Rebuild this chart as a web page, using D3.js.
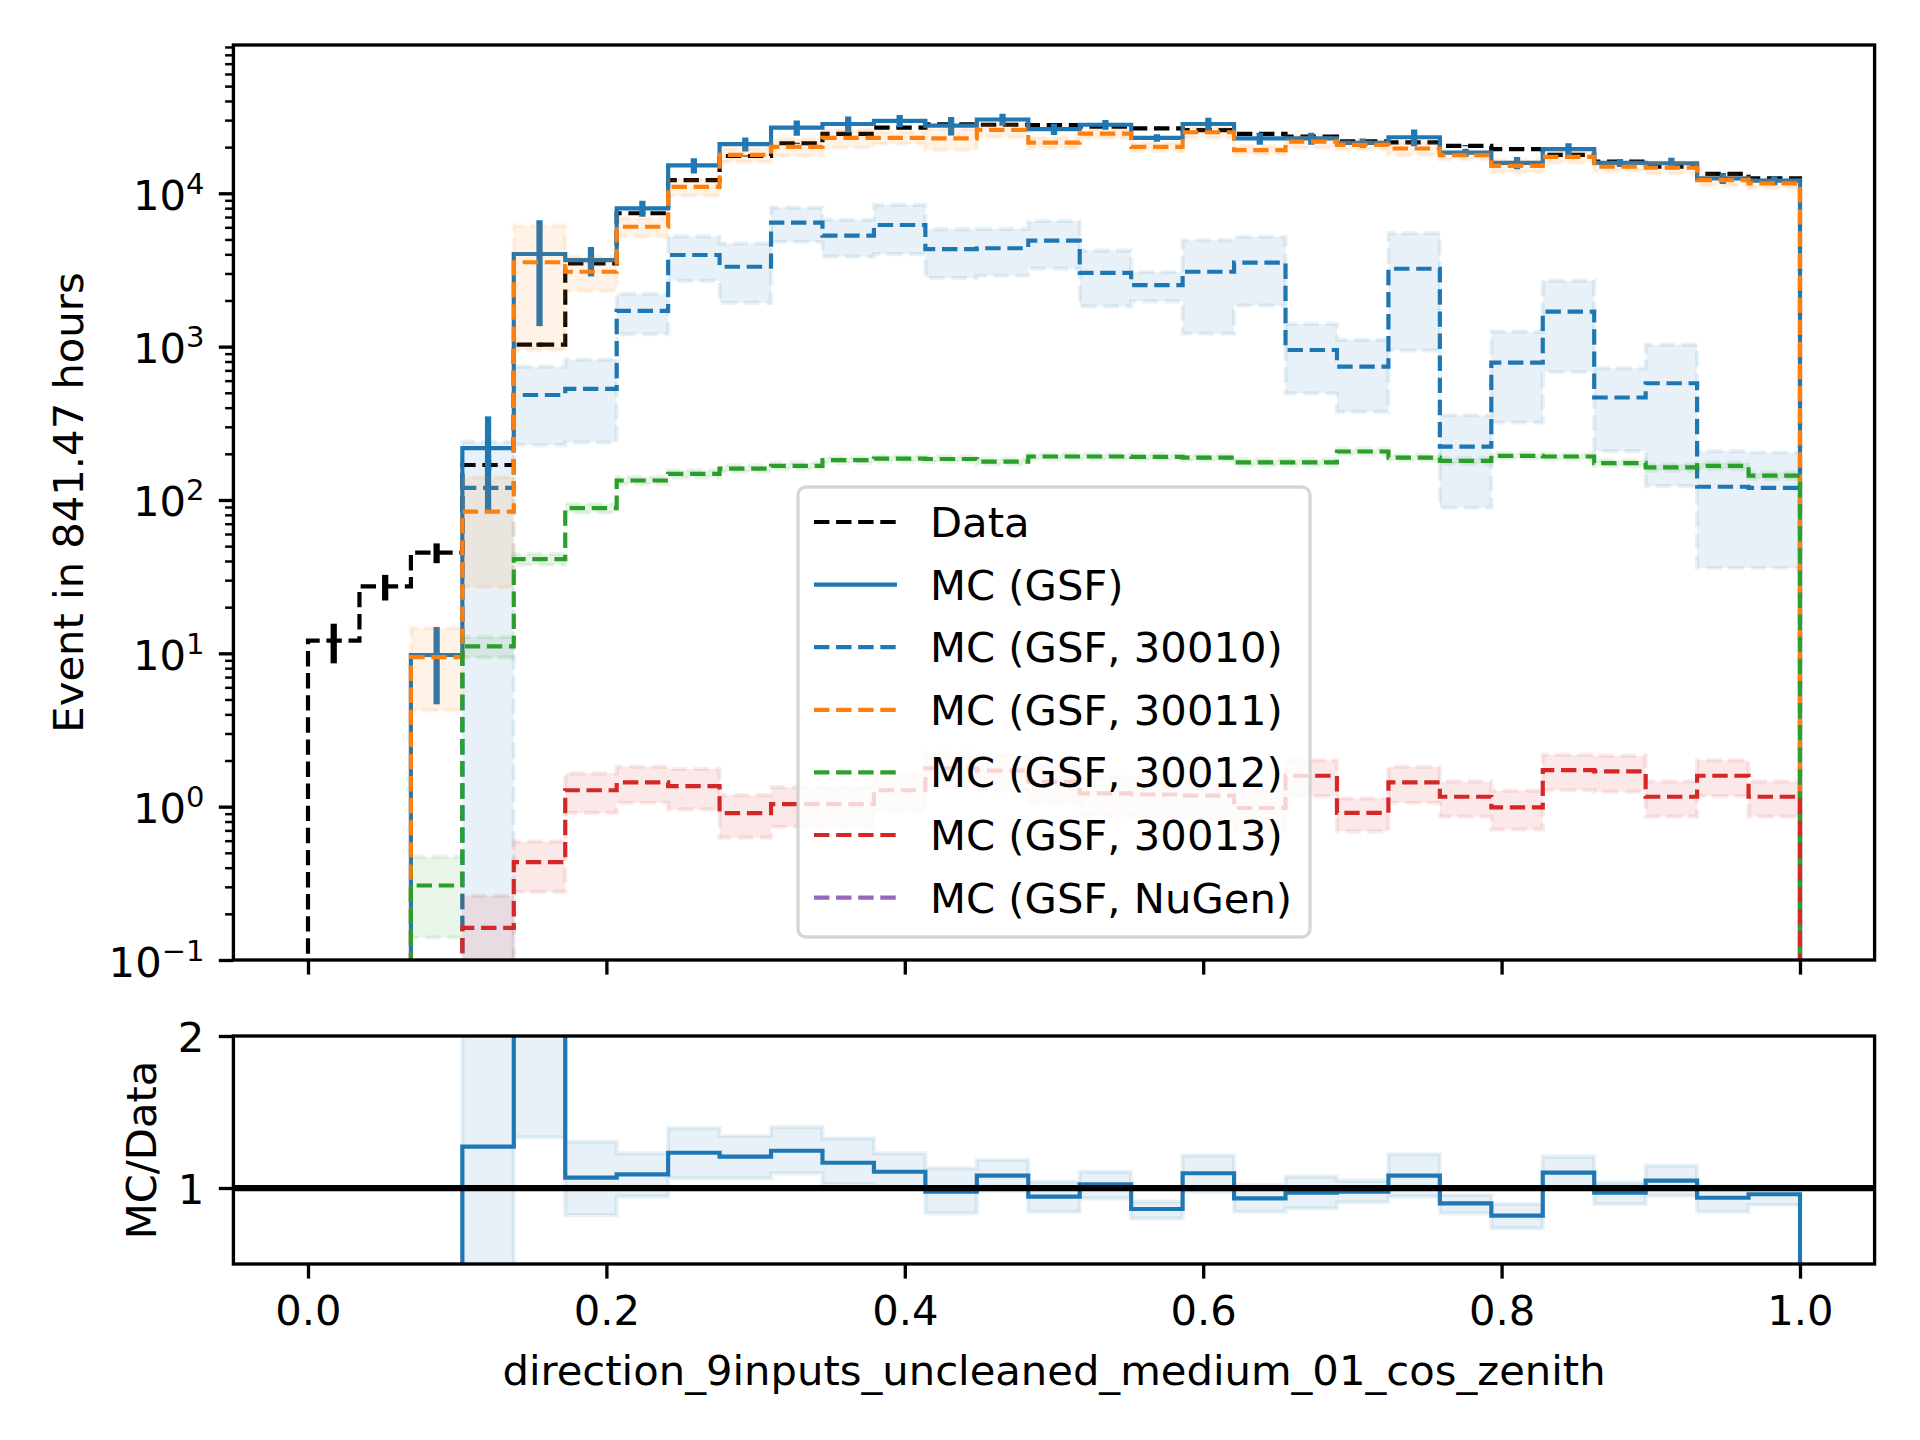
<!DOCTYPE html>
<html><head><meta charset="utf-8">
<script src="https://cdn.jsdelivr.net/npm/d3@7"></script>
<style>
body{margin:0;background:#fff}
svg{display:block}
text{font-family:"DejaVu Sans",sans-serif;fill:#000}
</style>
</head><body>
<svg id="c" width="1920" height="1440"></svg>
<script>
// ---------------- data ----------------
const nBins = 29;
const binEdges = d3.range(nBins + 1).map(k => k / nBins);

const dataVals = [12.1, 27.3, 45.4, 169, 1030, 3490, 7410, 12200, 17500, 21200, 24400, 26800, 28200, 28000, 27800, 27200, 26500, 25800, 24400, 23400, 21800, 21500, 20400, 19400, 17800, 16100, 14900, 13400, 12500];
const dataErr  = [3.5, 5.2, 6.7, 13, 32, 59, 86, 110, 132, 146, 156, 164, 168, 167, 167, 165, 163, 161, 156, 153, 148, 147, 143, 139, 133, 127, 122, 116, 112];

const mcVals = [0, 0, 9.75, 218, 4020, 3670, 7980, 15200, 20900, 26800, 28300, 29700, 27600, 30300, 26200, 28000, 23000, 28300, 22800, 22800, 21300, 23200, 18400, 15800, 19400, 15800, 15700, 12500, 12100];
const mcErr  = [0, 0, 5.1, 133, 2660, 800, 960, 1750, 2200, 3050, 3400, 2700, 3800, 2750, 2200, 2050, 1300, 2800, 2050, 2050, 1450, 2900, 1100, 1450, 1800, 950, 1350, 1000, 800];

const mc30010Vals = [0, 0, 0, 120, 484, 530, 1710, 3960, 3320, 6440, 5290, 6210, 4320, 4380, 4910, 3030, 2520, 3080, 3530, 951, 741, 3220, 223, 787, 1690, 466, 577, 122, 120];
const mc30010Err  = [0, 0, 0, 120, 256, 293, 505, 1275, 1390, 1630, 1430, 2200, 1515, 1480, 1685, 1200, 545, 1865, 1675, 455, 366, 2275, 134, 467, 1007, 258, 454, 86, 84];

const mc30011Vals = [0, 0, 9.44, 84, 3550, 3080, 6050, 11000, 17800, 20100, 23000, 23000, 22800, 25900, 21400, 24500, 20100, 25000, 19100, 21700, 20700, 19600, 17700, 15100, 17300, 14900, 14700, 12200, 11600];
const mc30011Err  = [0, 0, 5.2, 57, 2600, 770, 830, 1350, 1850, 2600, 3150, 2000, 3600, 2600, 1700, 1650, 1180, 2100, 1200, 1950, 1400, 1800, 1090, 1370, 1500, 910, 1270, 990, 800];

const mc30012Vals = [0, 0, 0.306, 11.1, 41.1, 88.5, 134, 148, 160, 167, 182, 186, 185, 178, 192, 192, 191, 189, 176, 176, 207, 189, 180, 194, 192, 174, 163, 167, 144];
const mc30012Err  = [0, 0, 0.166, 1.7, 3.3, 6, 7, 8, 8, 8, 8, 8, 8, 8, 8, 8, 8, 8, 8, 8, 9, 8, 8, 8, 8, 8, 8, 8, 7];

const mc30013Vals = [0, 0, 0, 0.162, 0.435, 1.28, 1.44, 1.36, 0.908, 1.04, 1.04, 1.28, 1.78, 1.72, 1.45, 1.22, 1.2, 1.18, 0.98, 1.59, 0.91, 1.44, 1.16, 0.99, 1.73, 1.70, 1.16, 1.59, 1.16];
const mc30013Err  = [0, 0, 0, 0.1, 0.157, 0.37, 0.38, 0.4, 0.28, 0.3, 0.3, 0.35, 0.45, 0.45, 0.4, 0.35, 0.35, 0.35, 0.3, 0.42, 0.22, 0.38, 0.3, 0.28, 0.45, 0.45, 0.3, 0.42, 0.3];

const nugenVals = [0, 0, 0, 0, 0, 0, 0, 0, 0, 0, 0, 0, 0, 0, 0, 0, 0, 0, 0, 0, 0, 0, 0, 0, 0, 0, 0, 0, 0];
const nugenErr  = [0, 0, 0, 0, 0, 0, 0, 0, 0, 0, 0, 0, 0, 0, 0, 0, 0, 0, 0, 0, 0, 0, 0, 0, 0, 0, 0, 0, 0];

const ratioVals = [0, 0, 0, 1.272, 3.9, 1.068, 1.09, 1.232, 1.206, 1.245, 1.166, 1.107, 0.976, 1.081, 0.943, 1.024, 0.862, 1.097, 0.932, 0.969, 0.976, 1.081, 0.899, 0.818, 1.101, 0.969, 1.048, 0.936, 0.959];
const ratioLo   = [0, 0, 0, -0.5, 1.334, 0.822, 0.943, 1.064, 1.064, 1.097, 1.026, 0.998, 0.834, 0.982, 0.844, 0.932, 0.8, 0.976, 0.844, 0.866, 0.906, 0.943, 0.834, 0.735, 0.998, 0.895, 0.949, 0.844, 0.888];
const ratioHi   = [0, 0, 0, 3.0, 6.5, 1.305, 1.228, 1.393, 1.342, 1.4, 1.327, 1.228, 1.13, 1.184, 1.041, 1.107, 0.91, 1.213, 1.02, 1.075, 1.048, 1.222, 0.954, 0.895, 1.206, 1.035, 1.147, 1.009, 1.009];

const xTickValues = [0, 0.2, 0.4, 0.6, 0.8, 1.0];
const xTickLabels = ["0.0", "0.2", "0.4", "0.6", "0.8", "1.0"];
const yTickValues = [0.1, 1, 10, 100, 1000, 10000];
const yTickExponents = ["\u22121", "0", "1", "2", "3", "4"];
const ratioTickValues = [1, 2];
const ratioTickLabels = ["1", "2"];

const legendLabels = ["Data", "MC (GSF)", "MC (GSF, 30010)", "MC (GSF, 30011)", "MC (GSF, 30012)", "MC (GSF, 30013)", "MC (GSF, NuGen)"];

// ---------------- layout ----------------
const C = {blue:"#1f77b4", orange:"#ff7f0e", green:"#2ca02c", red:"#d62728", purple:"#9467bd"};
const LW = 4.17, LW15 = 6.25, SPINE = 3.33, DASH = "15.4,6.7", FS = 41.7;
const L = 233.4, R = 1874.6, T1 = 45, B1 = 960, T2 = 1036, B2 = 1264;

const svg = d3.select("#c");
const x = d3.scaleLinear().domain([-0.05, 1.05]).range([L, R]);
const yTop = d3.scaleLog().domain([0.1, 92700]).range([B1, T1]);
const yRat = d3.scaleLinear().domain([0.5, 2]).range([B2, T2]);

const defs = svg.append("defs");
defs.append("clipPath").attr("id","clipTop").append("rect").attr("x",L).attr("y",T1).attr("width",R-L).attr("height",B1-T1);
defs.append("clipPath").attr("id","clipBot").append("rect").attr("x",L).attr("y",T2).attr("width",R-L).attr("height",B2-T2);

const yv = v => v > 0 ? yTop(v) : B1 + 60;
const ry = v => Math.max(Math.min(yRat(v), B2 + 60), T2 - 60);

function stepPts(vals) {
  const p = [[binEdges[0], 0]];
  vals.forEach((v, i) => { p.push([binEdges[i], v], [binEdges[i+1], v]); });
  p.push([binEdges[nBins], 0]);
  return p;
}
function bandPts(lo, hi) {
  const p = [];
  hi.forEach((v, i) => { p.push([binEdges[i], v], [binEdges[i+1], v]); });
  for (let i = nBins - 1; i >= 0; i--) p.push([binEdges[i+1], lo[i]], [binEdges[i], lo[i]]);
  return p;
}
const lineTop = d3.line().x(d => x(d[0])).y(d => yv(d[1]));
const lineBot = d3.line().x(d => x(d[0])).y(d => ry(d[1]));

const gTop = svg.append("g").attr("clip-path","url(#clipTop)");
const gBot = svg.append("g").attr("clip-path","url(#clipBot)");

function errorBars(g, vals, errs, color) {
  vals.forEach((v, i) => {
    if (!(v > 0)) return;
    const xc = x((binEdges[i] + binEdges[i+1]) / 2);
    g.append("line").attr("x1", xc).attr("x2", xc)
      .attr("y1", yv(v - errs[i])).attr("y2", yv(v + errs[i]))
      .attr("stroke", color).attr("stroke-width", LW15);
  });
}

// Data
gTop.append("path").attr("d", lineTop(stepPts(dataVals))).attr("fill","none")
  .attr("stroke","#000").attr("stroke-width",LW).attr("stroke-dasharray",DASH);
errorBars(gTop, dataVals, dataErr, "#000");

// MC total
gTop.append("path").attr("d", lineTop(stepPts(mcVals))).attr("fill","none")
  .attr("stroke",C.blue).attr("stroke-width",LW);
errorBars(gTop, mcVals, mcErr, C.blue);

// components
const comps = [
  {vals: mc30010Vals, err: mc30010Err, color: C.blue},
  {vals: mc30011Vals, err: mc30011Err, color: C.orange},
  {vals: mc30012Vals, err: mc30012Err, color: C.green},
  {vals: mc30013Vals, err: mc30013Err, color: C.red},
  {vals: nugenVals, err: nugenErr, color: C.purple}
];
comps.forEach(c => {
  gTop.append("path").attr("d", lineTop(stepPts(c.vals))).attr("fill","none")
    .attr("stroke", c.color).attr("stroke-width", LW).attr("stroke-dasharray", DASH);
  const lo = c.vals.map((v, i) => v - c.err[i]);
  const hi = c.vals.map((v, i) => v + c.err[i]);
  gTop.append("path").attr("d", lineTop(bandPts(lo, hi)) + "Z")
    .attr("fill", c.color).attr("fill-opacity", 0.1)
    .attr("stroke", c.color).attr("stroke-opacity", 0.1).attr("stroke-width", LW)
    .attr("stroke-dasharray", DASH);
});

// ratio panel
gBot.append("path").attr("d", lineBot(bandPts(ratioLo, ratioHi)) + "Z")
  .attr("fill", C.blue).attr("fill-opacity", 0.1)
  .attr("stroke", C.blue).attr("stroke-opacity", 0.1).attr("stroke-width", LW);
gBot.append("path").attr("d", lineBot(stepPts(ratioVals))).attr("fill","none")
  .attr("stroke", C.blue).attr("stroke-width", LW);
gBot.append("line").attr("x1", L).attr("x2", R).attr("y1", yRat(1)).attr("y2", yRat(1))
  .attr("stroke","#000").attr("stroke-width", LW15);

// ---------------- axes ----------------
function styleAxis(g, w) {
  g.select(".domain").remove();
  g.selectAll(".tick line").attr("stroke","#000").attr("stroke-width", w);
}
// x axes
const xAxTop = svg.append("g").attr("transform",`translate(0,${B1})`)
  .call(d3.axisBottom(x).tickValues(xTickValues).tickSize(14.6).tickFormat(""));
styleAxis(xAxTop, SPINE);
const xAxBot = svg.append("g").attr("transform",`translate(0,${B2})`)
  .call(d3.axisBottom(x).tickValues(xTickValues).tickSize(14.6).tickFormat((d,i) => xTickLabels[i]));
styleAxis(xAxBot, SPINE);
xAxBot.selectAll(".tick text").attr("y", null).attr("dy", null)
  .attr("transform", "translate(0,61)").attr("font-size", FS)
  .attr("font-family", "DejaVu Sans").attr("fill", "#000");

// y log axis major
const yAx = svg.append("g").attr("transform",`translate(${L},0)`)
  .call(d3.axisLeft(yTop).tickValues(yTickValues).tickSize(14.6).tickFormat(""));
styleAxis(yAx, SPINE);
yAx.selectAll(".tick").each(function(d, i) {
  const t = d3.select(this).append("text").attr("x", -29).attr("y", 16)
    .attr("text-anchor", "end").attr("font-size", FS).attr("font-family", "DejaVu Sans");
  t.append("tspan").text("10");
  t.append("tspan").attr("font-size", 29).attr("dy", -16).text(yTickExponents[i]);
});
// minor ticks
const minorVals = [];
[0.1, 1, 10, 100, 1000, 10000].forEach(dec => { for (let m = 2; m <= 9; m++) { const v = dec * m; if (v <= 92700) minorVals.push(v); } });
const yMin = svg.append("g").attr("transform",`translate(${L},0)`)
  .call(d3.axisLeft(yTop).tickValues(minorVals).tickSize(8.3).tickFormat(""));
styleAxis(yMin, 2.5);

// ratio y axis
const yAxR = svg.append("g").attr("transform",`translate(${L},0)`)
  .call(d3.axisLeft(yRat).tickValues(ratioTickValues).tickSize(14.6).tickFormat(""));
styleAxis(yAxR, SPINE);
yAxR.selectAll(".tick").append("text").attr("x", -29).attr("y", 15.5)
  .attr("text-anchor","end").attr("font-size", FS).attr("font-family","DejaVu Sans")
  .text((d, i) => ratioTickLabels[i]);

// spines
[[T1, B1], [T2, B2]].forEach(([t, b]) => {
  svg.append("rect").attr("x", L).attr("y", t).attr("width", R - L).attr("height", b - t)
    .attr("fill","none").attr("stroke","#000").attr("stroke-width", SPINE);
});

// labels
svg.append("text").attr("transform", `translate(68,${(T1+B1)/2}) rotate(-90)`)
  .attr("text-anchor","middle").attr("dy","0.36em").attr("font-size", FS).text("Event in 841.47 hours");
svg.append("text").attr("transform", `translate(141,${(T2+B2)/2}) rotate(-90)`)
  .attr("text-anchor","middle").attr("dy","0.36em").attr("font-size", FS).text("MC/Data");
svg.append("text").attr("x", (L+R)/2).attr("y", 1385).attr("text-anchor","middle")
  .attr("font-size", FS).text("direction_9inputs_uncleaned_medium_01_cos_zenith");

// ---------------- legend ----------------
const lg = svg.append("g");
lg.append("rect").attr("x", 798).attr("y", 487).attr("width", 512).attr("height", 450)
  .attr("rx", 8).attr("ry", 8).attr("fill", "#fff").attr("fill-opacity", 0.8)
  .attr("stroke", "#cccccc").attr("stroke-opacity", 0.8).attr("stroke-width", SPINE);
const legendStyles = [
  {color:"#000", dash:DASH}, {color:C.blue, dash:null}, {color:C.blue, dash:DASH},
  {color:C.orange, dash:DASH}, {color:C.green, dash:DASH}, {color:C.red, dash:DASH}, {color:C.purple, dash:DASH}
];
legendLabels.forEach((lab, i) => {
  const yc = 522 + i * 62.6;
  const s = legendStyles[i];
  const ln = lg.append("line").attr("x1", 814).attr("x2", 897).attr("y1", yc).attr("y2", yc)
    .attr("stroke", s.color).attr("stroke-width", LW);
  if (s.dash) ln.attr("stroke-dasharray", s.dash);
  lg.append("text").attr("x", 930).attr("y", yc + 15).attr("font-size", FS).text(lab);
});
</script>
</body></html>
